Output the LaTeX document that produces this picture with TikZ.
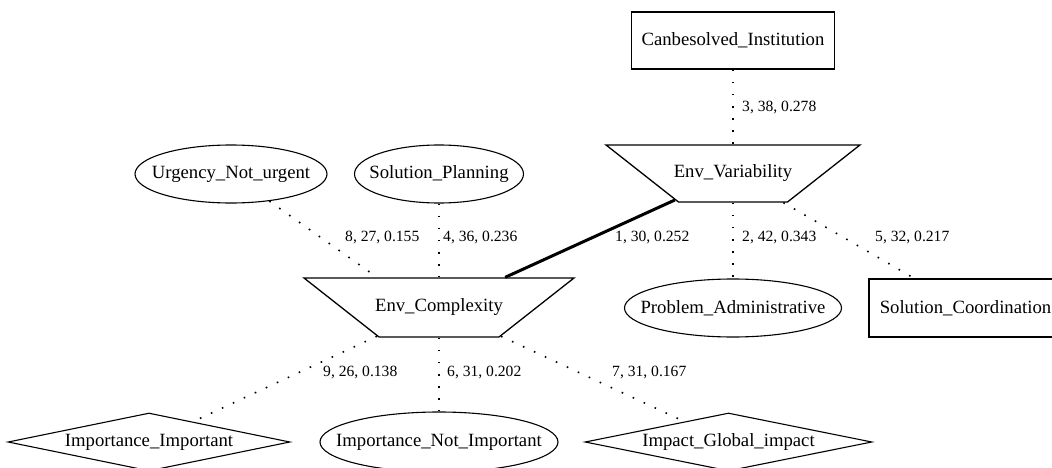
\documentclass[tikz,border=0pt]{standalone}
\usepackage{fontspec}
\setmainfont{Liberation Serif}
\usetikzlibrary{shapes.geometric}

\tikzset{
  nodefont/.style={font=\fontsize{18.7}{22}\selectfont},
  box/.style={nodefont, draw, line width=1.3pt, rectangle, inner sep=0pt},
  oval/.style={nodefont, draw, line width=1.1pt, ellipse, inner sep=0pt},
  diam/.style={nodefont, draw, line width=1.1pt, diamond, inner sep=0pt},
  % inverted trapezium: body = text box + inner seps, sides slanted outwards
  invtrap/.style={nodefont, draw, line width=1.3pt, trapezium, shape border rotate=180,
    trapezium angle=38.2, text height=12pt, text depth=4pt},
  elab/.style={font=\fontsize{15.6}{18}\selectfont, anchor=west, inner sep=0pt},
  dotl/.style={line width=1.6pt, dash pattern=on 1.6pt off 10.5pt},
  strong/.style={line width=3pt},
}

\begin{document}
\begin{tikzpicture}[x=1pt, y=-1pt]
  \useasboundingbox (0,0) rectangle (1052,468);
  \clip (0,0) rectangle (1052,468);

  % nodes
  \node[box, minimum width=203pt, minimum height=57pt] (ci) at (733,40.5) {Canbesolved\_Institution};
  \node[invtrap, inner xsep=54.5pt, inner ysep=20.5pt] (ev) at (733,173.5) {\makebox[0pt]{Env\_Variability}};
  \node[oval, minimum width=192pt, minimum height=58pt] (un) at (231,174) {\makebox[0pt]{Urgency\_Not\_urgent}};
  \node[oval, minimum width=169pt, minimum height=58pt] (sp) at (439,174) {\makebox[0pt]{Solution\_Planning}};
  \node[invtrap, inner xsep=60pt, inner ysep=21.5pt] (ec) at (439,307.5) {\makebox[0pt]{Env\_Complexity}};
  \node[oval, minimum width=217pt, minimum height=58pt] (pa) at (733,308) {\makebox[0pt]{Problem\_Administrative}};
  \node[box, minimum width=193pt, minimum height=58pt] (sc) at (965.5,308) {Solution\_Coordination};
  \node[diam, minimum width=282pt, minimum height=58pt] (ii) at (149,442) {\makebox[0pt]{Importance\_Important}};
  \node[oval, minimum width=238pt, minimum height=60pt] (ini) at (439,442) {\makebox[0pt]{Importance\_Not\_Important}};
  \node[diam, minimum width=287pt, minimum height=58pt] (ig) at (728.5,442) {\makebox[0pt]{Impact\_Global\_impact}};

  % connectors
  \draw[dotl] (ci) -- (ev);
  \draw[dotl] (ev) -- (pa);
  \draw[dotl] (ev) -- (sc);
  \draw[strong] (ev) -- (ec);
  \draw[dotl] (un) -- (ec.154.6);
  \draw[dotl] (sp) -- (ec);
  \draw[dotl] (ec) -- (ii);
  \draw[dotl] (ec) -- (ini);
  \draw[dotl] (ec) -- (ig);

  % edge labels
  \node[elab] (l3) at (742,108) {3, 38, 0.278};
  \node[elab] (l8) at (345,238) {8, 27, 0.155};
  \node[elab] (l4) at (443,238) {4, 36, 0.236};
  \node[elab] (l1) at (615,238) {1, 30, 0.252};
  \node[elab] (l2) at (742,238) {2, 42, 0.343};
  \node[elab] (l5) at (875,238) {5, 32, 0.217};
  \node[elab] (l9) at (323,373) {9, 26, 0.138};
  \node[elab] (l6) at (447,373) {6, 31, 0.202};
  \node[elab] (l7) at (612,373) {7, 31, 0.167};
\end{tikzpicture}
\end{document}
